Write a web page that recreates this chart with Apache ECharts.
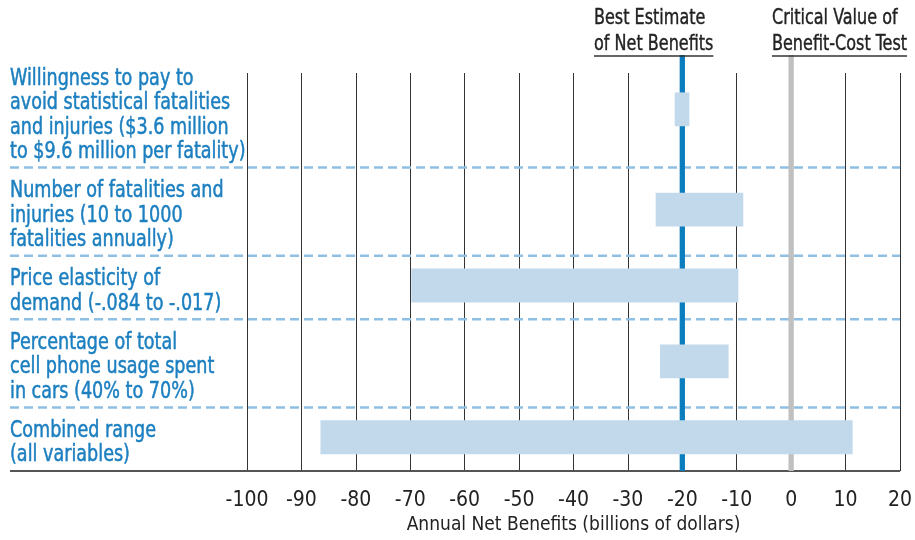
<!DOCTYPE html>
<html><head><meta charset="utf-8">
<script src="https://cdn.jsdelivr.net/npm/echarts@6/dist/echarts.min.js"></script>
<style>html,body{margin:0;padding:0;background:#fff}#c{width:915px;height:540px}</style>
</head><body><div id="c"></div>
<script>
// ---- data ----
const categories = [
  "Willingness to pay to\navoid statistical fatalities\nand injuries ($3.6 million\nto $9.6 million per fatality)",
  "Number of fatalities and\ninjuries (10 to 1000\nfatalities annually)",
  "Price elasticity of\ndemand (-.084 to -.017)",
  "Percentage of total\ncell phone usage spent\nin cars (40% to 70%)",
  "Combined range\n(all variables)"
];
const lowValues  = [-21.4, -24.9, -69.8, -24.1, -86.5];
const highValues = [-18.7,  -8.8,  -9.7, -11.5,  11.3];
const bestEstimate = -20;
const criticalValue = 0;
const xMin = -100, xMax = 20, xStep = 10;
const annotationTexts = ["Best Estimate\nof Net Benefits", "Critical Value of\nBenefit-Cost Test"];
const xAxisTitle = "Annual Net Benefits (billions of dollars)";

// ---- layout / style ----
const FONT = "'Liberation Sans Narrow','DejaVu Sans Condensed','Roboto',sans-serif";
const LINE_H = 24.5, ROW_PAD = 15, BAR_H = 34;
const LABEL_SCALE = 0.85, ANN_SCALE = 0.81;
const GRID = {left: 247, right: 12, top: 73, bottom: 67};
const plotH = 540 - GRID.top - GRID.bottom;
const heights = categories.map(c => c.split('\n').length * LINE_H + ROW_PAD);
const bounds = [];
let acc = plotH;
for (let i = heights.length - 1; i >= 0; i--) { bounds[i] = [acc - heights[i], acc]; acc -= heights[i]; }
const topY = bounds[0][0];
const centers = bounds.map(b => (b[0] + b[1]) / 2 - 2);
const LEFT_X = 10;

const chart = echarts.init(document.getElementById('c'), null, {renderer: 'canvas'});

function measure(text, size) {
  const ctx = document.createElement('canvas').getContext('2d');
  ctx.font = size + 'px ' + FONT;
  return ctx.measureText(text).width;
}

const annX = [594, 772];
const graphics = [];
annotationTexts.forEach((t, i) => {
  graphics.push({type: 'text', x: annX[i], y: 5, z: 10, scaleX: ANN_SCALE,
    style: {text: t, fontSize: 22, fontFamily: FONT, fill: '#222', stroke: '#222', lineWidth: 0.4,
      lineHeight: 26.5, align: 'left', verticalAlign: 'top'}});
  const w = measure(t.split('\n')[1], 22) * ANN_SCALE;
  graphics.push({type: 'line', z: 10, shape: {x1: annX[i], y1: 56, x2: annX[i] + w, y2: 56},
    style: {stroke: '#333', lineWidth: 1.5}});
});

chart.setOption({
  animation: false,
  grid: GRID,
  xAxis: {
    type: 'value', min: xMin, max: xMax, interval: xStep,
    axisLine: {show: false}, axisTick: {show: false},
    splitLine: {show: true, lineStyle: {color: '#333', width: 1}},
    axisLabel: {fontSize: 21, fontFamily: FONT, color: '#222', margin: 19},
    name: xAxisTitle, nameLocation: 'middle', nameGap: 43,
    nameTextStyle: {fontSize: 19, fontFamily: FONT, color: '#222'}
  },
  yAxis: {type: 'value', min: 0, max: plotH, inverse: true, show: false},
  graphic: graphics,
  series: [
    { // row separators + axis line
      type: 'custom', clip: false, z: 3,
      data: bounds.slice(1).map(b => [b[0], 0]).concat([[plotH, 1]]),
      encode: {y: 0},
      renderItem: (params, api) => {
        const y = api.coord([0, api.value(0)])[1];
        const cs = params.coordSys;
        const solid = api.value(1) === 1;
        return {type: 'line', shape: {x1: LEFT_X, y1: y, x2: cs.x + cs.width, y2: y},
          style: solid ? {stroke: '#555', lineWidth: 2} : {stroke: '#8fc0e3', lineWidth: 2.5, lineDash: [9, 5]}};
      }
    },
    { // reference lines
      type: 'custom', clip: false, z: 4,
      data: [[bestEstimate, 0], [criticalValue, 1]],
      encode: {x: 0},
      renderItem: (params, api) => {
        const a = api.coord([api.value(0), topY]);
        const b = api.coord([api.value(0), plotH]);
        return {type: 'line', shape: {x1: a[0], y1: a[1], x2: b[0], y2: b[1]},
          style: {stroke: api.value(1) === 0 ? '#0a7dbf' : '#c0c0c0', lineWidth: 5.3}};
      }
    },
    { // bars + labels
      type: 'custom', clip: false, z: 5,
      data: categories.map((c, i) => [lowValues[i], highValues[i], centers[i], i]),
      encode: {x: [0, 1], y: 2},
      renderItem: (params, api) => {
        const p0 = api.coord([api.value(0), api.value(2)]);
        const p1 = api.coord([api.value(1), api.value(2)]);
        const h = api.size([0, BAR_H])[1];
        const i = api.value(3);
        return {type: 'group', children: [
          {type: 'rect', shape: {x: p0[0], y: p0[1] - h / 2, width: p1[0] - p0[0], height: h}, style: {fill: '#c2d9eb'}},
          {type: 'text', x: LEFT_X, y: p0[1] + 6, scaleX: LABEL_SCALE,
            style: {text: categories[i], fontSize: 23, fontFamily: FONT, fill: '#1c7fc0', stroke: '#1c7fc0', lineWidth: 0.5,
              lineHeight: LINE_H, align: 'left', verticalAlign: 'middle'}}
        ]};
      }
    }
  ]
});
</script></body></html>
